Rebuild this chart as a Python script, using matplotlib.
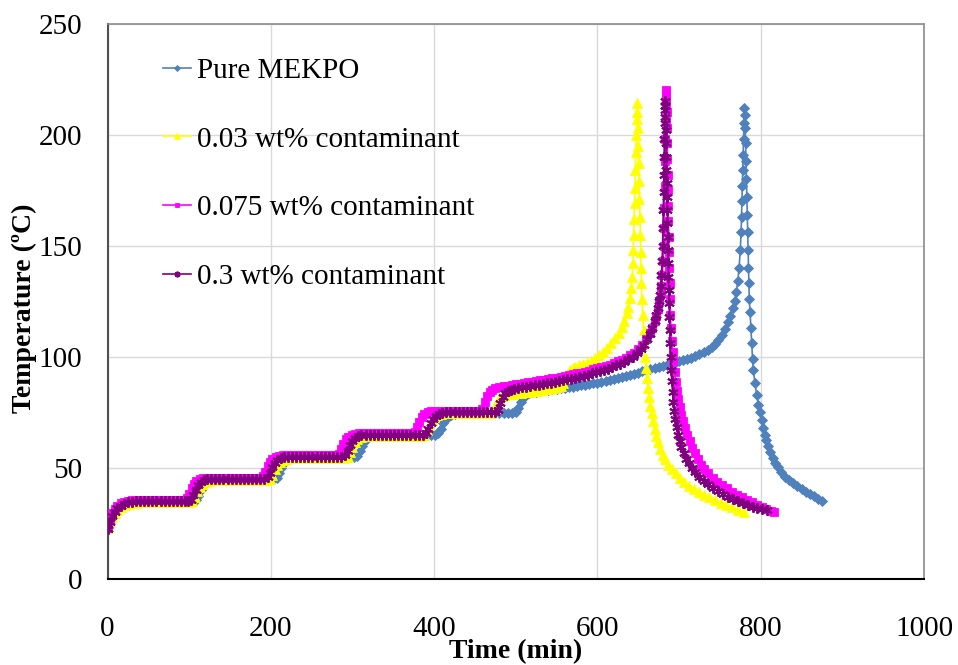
import matplotlib
matplotlib.use("Agg")
import matplotlib.pyplot as plt

plt.rcParams['font.family'] = ['Liberation Serif', 'DejaVu Serif']

series_labels = ["Pure MEKPO", "0.03 wt% contaminant",
                 "0.075 wt% contaminant", "0.3 wt% contaminant"]
x_ticks = [0, 200, 400, 600, 800, 1000]
y_ticks = [0, 50, 100, 150, 200, 250]

# ---------------- Pure MEKPO ----------------
pure_t = [0, 3, 6, 9, 12, 16, 20, 25, 30, 35, 40, 45, 50, 55, 60, 65, 70, 75, 80, 85, 90, 95, 100, 105,
          108, 111, 114, 117, 120, 124, 128, 133, 138, 143, 148, 153, 158, 163, 168, 173, 178, 183, 188, 193, 198, 203,
          207, 210, 213, 216, 219, 223, 227, 232, 237, 242, 247, 252, 257, 262, 267, 272, 277, 282, 287, 292, 297, 302,
          306, 309, 312, 315, 318, 322, 326, 331, 336, 341, 346, 351, 356, 361, 366, 371, 376, 381, 386, 391, 396, 401,
          405, 408, 411, 414, 417, 421, 425, 430, 435, 440, 445, 450, 455, 460, 465, 470, 475, 480, 485, 490, 495,
          500, 503, 506, 509, 512, 516, 520,
          525, 530, 535, 540, 545, 550, 555, 560, 565, 570, 575, 580, 585, 590, 595, 600, 605, 610, 615, 620, 625,
          630, 635, 640, 645, 650, 655, 660, 665, 670, 675, 680, 685, 690, 695, 700, 705, 710, 715, 720, 725, 730,
          735, 740,
          744, 748, 752, 756, 760, 763, 766, 768, 770, 772, 773.5, 775, 776, 776.5, 777, 777.5, 778, 778.5, 779, 779.5, 780,
          780.5, 781, 781.5, 782, 782.5, 783, 783.5, 784, 784.5, 785, 785.5, 786, 787, 788, 789, 790, 791, 793, 795,
          797, 799, 801, 803, 805, 807, 809, 812, 815, 818, 821, 825, 830, 835, 840, 845, 850, 855, 860, 865, 870, 875]
pure_T = [23, 25.5, 28, 30, 31.5, 32.8, 33.7, 34.3, 34.7, 34.9, 35, 35, 35, 35, 35, 35, 35, 35, 35, 35, 35, 35, 35, 35,
          35.5, 37.5, 40, 42, 43.3, 44.2, 44.7, 45, 45, 45, 45, 45, 45, 45, 45, 45, 45, 45, 45, 45, 45, 45,
          45.5, 47.5, 50, 52, 53.3, 54.2, 54.7, 55, 55, 55, 55, 55, 55, 55, 55, 55, 55, 55, 55, 55, 55, 55,
          55.5, 57.5, 60, 62, 63.3, 64.2, 64.7, 65, 65, 65, 65, 65, 65, 65, 65, 65, 65, 65, 65, 65, 65, 65,
          65.5, 67.5, 70, 71.8, 73, 73.8, 74.2, 74.5, 74.5, 74.5, 74.5, 74.5, 74.5, 74.5, 74.5, 74.5, 74.5, 74.5, 74.5, 74.5, 74.5,
          75, 77, 79.5, 81.5, 82.7, 83.5, 84.0,
          84.3, 84.6, 84.9, 85.1, 85.4, 85.6, 85.9, 86.1, 86.4, 86.6, 86.9, 87.1, 87.4, 87.7, 88.0, 88.4, 88.8, 89.2,
          89.6, 90.0, 90.4, 90.9, 91.4, 91.9, 92.4, 92.9, 93.4, 93.9, 94.4, 94.9, 95.4, 95.9, 96.4, 96.9, 97.4, 97.9,
          98.4, 98.9, 99.5, 100.2, 101.1, 102.0, 103.0, 104.2,
          105.7, 107.5, 109.8, 112.5, 115.5, 118.5, 122, 125, 129, 134, 140, 148, 156, 163, 170, 177, 184, 191, 198, 205, 212,
          209, 203, 196, 188, 180, 172, 164, 156, 148, 140, 133, 126, 120, 113, 106, 99, 94, 88, 83,
          78.5, 75, 71.5, 68, 65, 62.5, 60, 57, 54.5, 52.3, 50.3, 48.3, 46, 44.5, 43, 41.8, 40.5, 39.3, 38.2, 37.2, 36.2, 35.3]

# ---------------- 0.03 wt% ----------------
c003_t = [0, 3, 6, 9, 12, 16, 20, 25, 30, 35, 40, 45, 50, 55, 60, 65, 70, 75, 80, 85, 90, 95, 100,
          104, 107, 110, 113, 116, 120, 124, 129, 134, 139, 144, 149, 154, 159, 164, 169, 174, 179, 184, 189, 194,
          199, 202, 205, 208, 211, 215, 219, 224, 229, 234, 239, 244, 249, 254, 259, 264, 269, 274, 279, 284, 289,
          294, 297, 300, 303, 306, 310, 314, 319, 324, 329, 334, 339, 344, 349, 354, 359, 364, 369, 374, 379, 384,
          388, 391, 394, 397, 400, 404, 408, 413, 418, 423, 428, 433, 438, 443, 448, 453, 458, 463, 468,
          471, 474, 477, 480, 483, 487, 491,
          496, 501, 506, 511, 516, 521, 526, 531, 536, 541, 546, 551, 555,
          558, 561, 564, 567, 570, 573, 577,
          582, 587, 592, 597, 602, 607, 612, 617, 622, 626, 630, 633, 636, 638, 640, 641.5, 642.5, 643.5, 644, 644.5,
          645, 645.5, 646, 646.5, 647, 647.5, 648, 648.5,
          649, 649.5, 650, 650.5, 651, 651.5, 652, 652.5, 653, 653.5, 654, 654.5, 655.5, 656.5, 657.5, 658.5, 659.5,
          660.5, 662, 663.5, 665, 666.5, 668, 670, 672, 674, 677, 680, 683, 687, 691, 696, 701, 706, 712, 718, 724,
          730, 737, 744, 751, 758, 765, 772, 780]
c003_T = [23, 25.5, 28, 29.8, 31.2, 32.4, 33.2, 33.8, 34.2, 34.4, 34.5, 34.5, 34.5, 34.5, 34.5, 34.5, 34.5, 34.5, 34.5, 34.5, 34.5, 34.5, 34.5,
          35, 37, 39.5, 41.5, 42.8, 43.7, 44.2, 44.5, 44.5, 44.5, 44.5, 44.5, 44.5, 44.5, 44.5, 44.5, 44.5, 44.5, 44.5, 44.5, 44.5,
          45, 47, 49.5, 51.5, 52.8, 53.7, 54.2, 54.5, 54.5, 54.5, 54.5, 54.5, 54.5, 54.5, 54.5, 54.5, 54.5, 54.5, 54.5, 54.5, 54.5,
          55, 57, 59.5, 61.5, 62.8, 63.7, 64.2, 64.5, 64.5, 64.5, 64.5, 64.5, 64.5, 64.5, 64.5, 64.5, 64.5, 64.5, 64.5, 64.5, 64.5,
          65, 67, 69.5, 71.5, 72.8, 73.7, 74.2, 74.5, 74.5, 74.5, 74.5, 74.5, 74.5, 74.5, 74.5, 74.5, 74.5, 74.5, 74.5,
          75, 77, 79.5, 81.3, 82.3, 82.9, 83.2,
          83.4, 83.6, 83.8, 84.0, 84.2, 84.4, 84.7, 85.0, 85.3, 85.6, 85.9, 86.3, 86.8,
          88.3, 90.5, 92.5, 94, 95, 95.6, 96.1,
          96.7, 97.4, 98.3, 99.4, 100.8, 102.3, 104, 106, 108.3, 110.6, 113.3, 116, 119.5, 122.5, 126.5, 131, 136, 142,
          148, 155, 162, 169, 176, 184, 192, 200, 207, 214,
          210, 203, 195, 187, 179, 171, 163, 155, 147, 140, 133, 126, 119, 112, 106, 100, 95, 90.5, 86, 82, 78, 74.5,
          71, 67.5, 64.5, 61.5, 58.5, 56, 54, 51.5, 49.5, 47.5, 45.5, 43.8, 42, 40.5, 39.2, 38, 36.7, 35.5, 34.3,
          33.2, 32.2, 31.2, 30.3]

# ---------------- 0.075 wt% ----------------
c0075_t = [0, 3, 6, 9, 12, 16, 20, 25, 30, 35, 40, 45, 50, 55, 60, 65, 70, 75, 80, 85, 90, 94,
           97, 100, 103, 106, 109, 113, 117, 122, 127, 132, 137, 142, 147, 152, 157, 162, 167, 172, 177, 182, 187,
           190, 193, 196, 199, 202, 206, 210, 215, 220, 225, 230, 235, 240, 245, 250, 255, 260, 265, 270, 275, 280,
           283, 286, 289, 292, 295, 299, 303, 308, 313, 318, 323, 328, 333, 338, 343, 348, 353, 358, 363, 368, 373,
           376, 379, 382, 385, 388, 392, 396, 401, 406, 411, 416, 421, 426, 431, 436, 441, 446, 451, 456,
           459, 462, 465, 468, 471, 475, 479,
           485, 490, 495, 500, 505, 510, 515, 520, 525, 530, 535, 540, 545, 550, 555, 560, 565, 570, 575, 580, 585,
           590, 595, 600, 605, 610, 615, 620, 625, 630, 635, 640, 645, 650, 655,
           660, 664, 667, 670, 672, 674, 676, 677.5, 678.5, 679.5, 680.5, 681, 681.5, 682, 682.5, 683, 683.3, 683.6,
           683.9, 684.1, 684.3,
           684.6, 684.9, 685.2, 685.5, 685.8, 686.1, 686.4, 686.7, 687, 687.4, 687.8, 688.2, 688.6, 689, 689.5, 690,
           691, 692, 693, 694.5, 696, 697.5, 699, 701, 703, 705, 707, 710, 713, 716, 719, 723, 727, 731, 736, 741,
           747, 753, 759, 765, 771, 777, 783, 789, 795, 801, 807, 813, 816]
c0075_T = [23, 26.5, 29.5, 31.5, 32.9, 34, 34.7, 35.2, 35.5, 35.6, 35.6, 35.6, 35.6, 35.6, 35.6, 35.6, 35.6, 35.6, 35.6, 35.6, 35.6, 35.6,
           36.3, 38.3, 40.8, 42.8, 44.1, 45, 45.4, 45.6, 45.6, 45.6, 45.6, 45.6, 45.6, 45.6, 45.6, 45.6, 45.6, 45.6, 45.6, 45.6, 45.6,
           46.3, 48.3, 50.8, 52.8, 54.1, 55, 55.4, 55.6, 55.6, 55.6, 55.6, 55.6, 55.6, 55.6, 55.6, 55.6, 55.6, 55.6, 55.6, 55.6, 55.6,
           56.3, 58.3, 60.8, 62.8, 64.1, 65, 65.4, 65.6, 65.6, 65.6, 65.6, 65.6, 65.6, 65.6, 65.6, 65.6, 65.6, 65.6, 65.6, 65.6, 65.6,
           66.3, 68.3, 70.8, 72.8, 74.1, 75, 75.4, 75.6, 75.6, 75.6, 75.6, 75.6, 75.6, 75.6, 75.6, 75.6, 75.6, 75.6, 75.6,
           76.5, 79.5, 82.3, 84, 85, 85.8, 86.3,
           86.7, 87.0, 87.3, 87.6, 87.9, 88.2, 88.5, 88.8, 89.1, 89.4, 89.7, 90.0, 90.3, 90.6, 90.9, 91.3, 91.7, 92.1,
           92.5, 92.9, 93.3, 93.8, 94.3, 94.8, 95.3, 95.9, 96.5, 97.2, 97.9, 98.7, 99.6, 100.6, 101.8, 103.3, 105.2,
           107.8, 110.5, 113, 116, 118.5, 121.5, 125, 128.5, 132, 137, 143, 150, 158, 167, 177, 188, 198, 207, 214, 218, 220,
           216, 210, 203, 196, 189, 182, 175, 168, 161, 154, 147, 140, 133, 126, 119, 113, 107, 102, 98, 93, 88.5,
           84.5, 81, 77.5, 74, 71, 68, 65, 62, 59, 56.5, 54, 51.5, 49.5, 47.5, 45.5, 43.8, 42.3, 40.8, 39.3, 38,
           36.8, 35.6, 34.5, 33.4, 32.4, 31.5, 30.6, 30.2]

# ---------------- 0.3 wt% ----------------
c03_t = [0, 3, 6, 9, 12, 16, 20, 25, 30, 35, 40, 45, 50, 55, 60, 65, 70, 75, 80, 85, 90, 95, 99,
         102, 105, 108, 111, 114, 118, 122, 127, 132, 137, 142, 147, 152, 157, 162, 167, 172, 177, 182, 187, 192,
         196, 199, 202, 205, 208, 212, 216, 221, 226, 231, 236, 241, 246, 251, 256, 261, 266, 271, 276, 281, 286,
         291, 294, 297, 300, 303, 307, 311, 316, 321, 326, 331, 336, 341, 346, 351, 356, 361, 366, 371, 376, 381, 386,
         390, 393, 396, 399, 402, 406, 410, 415, 420, 425, 430, 435, 440, 445, 450, 455, 460, 465, 470, 475,
         478, 481, 484, 487, 490, 494, 498,
         503, 508, 513, 518, 523, 528, 533, 538, 543, 548, 553, 558, 563, 568, 573, 578, 583, 588, 593, 598, 603,
         608, 613, 618, 623, 628, 633, 638, 643, 648, 653,
         657, 661, 664, 667, 670, 672, 674, 675.5, 676.5, 677.5, 678.5, 679.2, 679.8, 680.3, 680.7, 681, 681.3,
         681.6, 681.9, 682.2, 682.5, 682.8,
         683.1, 683.4, 683.7, 684, 684.3, 684.6, 684.9, 685.2, 685.5, 685.8, 686.1, 686.4, 686.7, 687, 687.4, 687.8,
         688.2, 688.6, 689, 689.6, 690.3, 691, 692, 693, 694, 695.5, 697, 699, 701, 703, 706, 709, 712, 716, 720,
         725, 730, 736, 742, 748, 754, 760, 766, 772, 778, 784, 790, 796, 802, 808]
c03_T = [22.5, 25.5, 28.3, 30.3, 31.8, 33, 33.9, 34.5, 34.8, 35, 35, 35, 35, 35, 35, 35, 35, 35, 35, 35, 35, 35, 35,
         35.7, 37.7, 40.2, 42.2, 43.5, 44.4, 44.8, 45, 45, 45, 45, 45, 45, 45, 45, 45, 45, 45, 45, 45, 45,
         45.7, 47.7, 50.2, 52.2, 53.5, 54.4, 54.8, 55, 55, 55, 55, 55, 55, 55, 55, 55, 55, 55, 55, 55, 55,
         55.7, 57.7, 60.2, 62.2, 63.5, 64.4, 64.8, 65, 65, 65, 65, 65, 65, 65, 65, 65, 65, 65, 65, 65, 65, 65,
         65.7, 67.7, 70.2, 72.2, 73.5, 74.4, 74.8, 75, 75, 75, 75, 75, 75, 75, 75, 75, 75, 75, 75, 75,
         76, 79, 81.8, 83.5, 84.5, 85.2, 85.7,
         86.0, 86.3, 86.6, 86.9, 87.2, 87.5, 87.8, 88.1, 88.4, 88.7, 89.0, 89.4, 89.8, 90.2, 90.6, 91.0, 91.5, 92.0,
         92.5, 93.0, 93.5, 94.1, 94.7, 95.4, 96.1, 96.9, 97.8, 98.8, 100.0, 101.5, 103.4,
         105.3, 107.8, 110.2, 113, 116.3, 119, 122, 125, 128, 132, 137, 143, 150, 158, 166, 174, 182, 190, 198, 205, 211, 215,
         213, 208, 202, 196, 190, 184, 178, 172, 166, 160, 154, 148, 142, 136, 130, 124, 118, 112, 106, 100, 94, 89,
         84, 79.5, 75.5, 72, 68.5, 65, 62, 59.5, 56.5, 54, 52, 50, 48, 46, 44.3, 42.6, 41, 39.6, 38.3, 37.1, 36, 35,
         34.1, 33.3, 32.6, 32, 31.4, 30.9]

colors = ['#4F81BD', '#FFFF00', '#FF00FF', '#800080']

fig = plt.figure(figsize=(9.58, 6.65), dpi=100)
ax = fig.add_axes([107.5 / 958, 86 / 665, 816.5 / 958, 555.5 / 665])

ax.plot(pure_t, pure_T, color=colors[0], lw=1.2, marker='D', ms=5.6, mfc=colors[0], mec=colors[0], mew=0.6,
        label=series_labels[0], zorder=3)
ax.plot(c003_t, c003_T, color=colors[1], lw=1.2, marker='^', ms=7.2, mfc=colors[1], mec=colors[1], mew=0.6,
        label=series_labels[1], zorder=4)
ax.plot(c0075_t, c0075_T, color=colors[2], lw=1.2, marker='s', ms=6.4, mfc=colors[2], mec=colors[2], mew=0.6,
        label=series_labels[2], zorder=5)
ax.plot(c03_t, c03_T, color=colors[3], lw=1.2, marker=(6, 2, 0), ms=7.5, mfc=colors[3], mec=colors[3], mew=1.4,
        label=series_labels[3], zorder=6)

ax.set_xlim(0, 1000)
ax.set_ylim(0, 250)
ax.set_xticks(x_ticks)
ax.set_yticks(y_ticks)
ax.tick_params(axis='both', length=0, labelsize=21)
ax.tick_params(axis='x', pad=27)
ax.tick_params(axis='y', pad=18)

ax.grid(True, color='#D9D9D9', lw=1.0, zorder=0)
ax.set_axisbelow(True)
ax.spines['left'].set_color('#505050')
ax.spines['left'].set_linewidth(1.5)
ax.spines['bottom'].set_color('#000000')
ax.spines['bottom'].set_linewidth(1.5)
ax.spines['top'].set_color('#8C8C8C')
ax.spines['top'].set_linewidth(1.2)
ax.spines['right'].set_color('#8C8C8C')
ax.spines['right'].set_linewidth(1.2)

ax.set_xlabel('Time (min)', fontsize=20, fontweight='bold')
ax.xaxis.set_label_coords(0.5, -0.108)
ax.set_ylabel('Temperature (ºC)', fontsize=20, fontweight='bold')
ax.yaxis.set_label_coords(-0.086, 0.488)

leg = ax.legend(loc='upper left', bbox_to_anchor=(0.068, 0.939), frameon=False, fontsize=21,
                labelspacing=1.45, handlelength=0.95, handletextpad=0.2, borderpad=0, borderaxespad=0,
                markerscale=0.55)

fig.savefig('out.png', dpi=100)
